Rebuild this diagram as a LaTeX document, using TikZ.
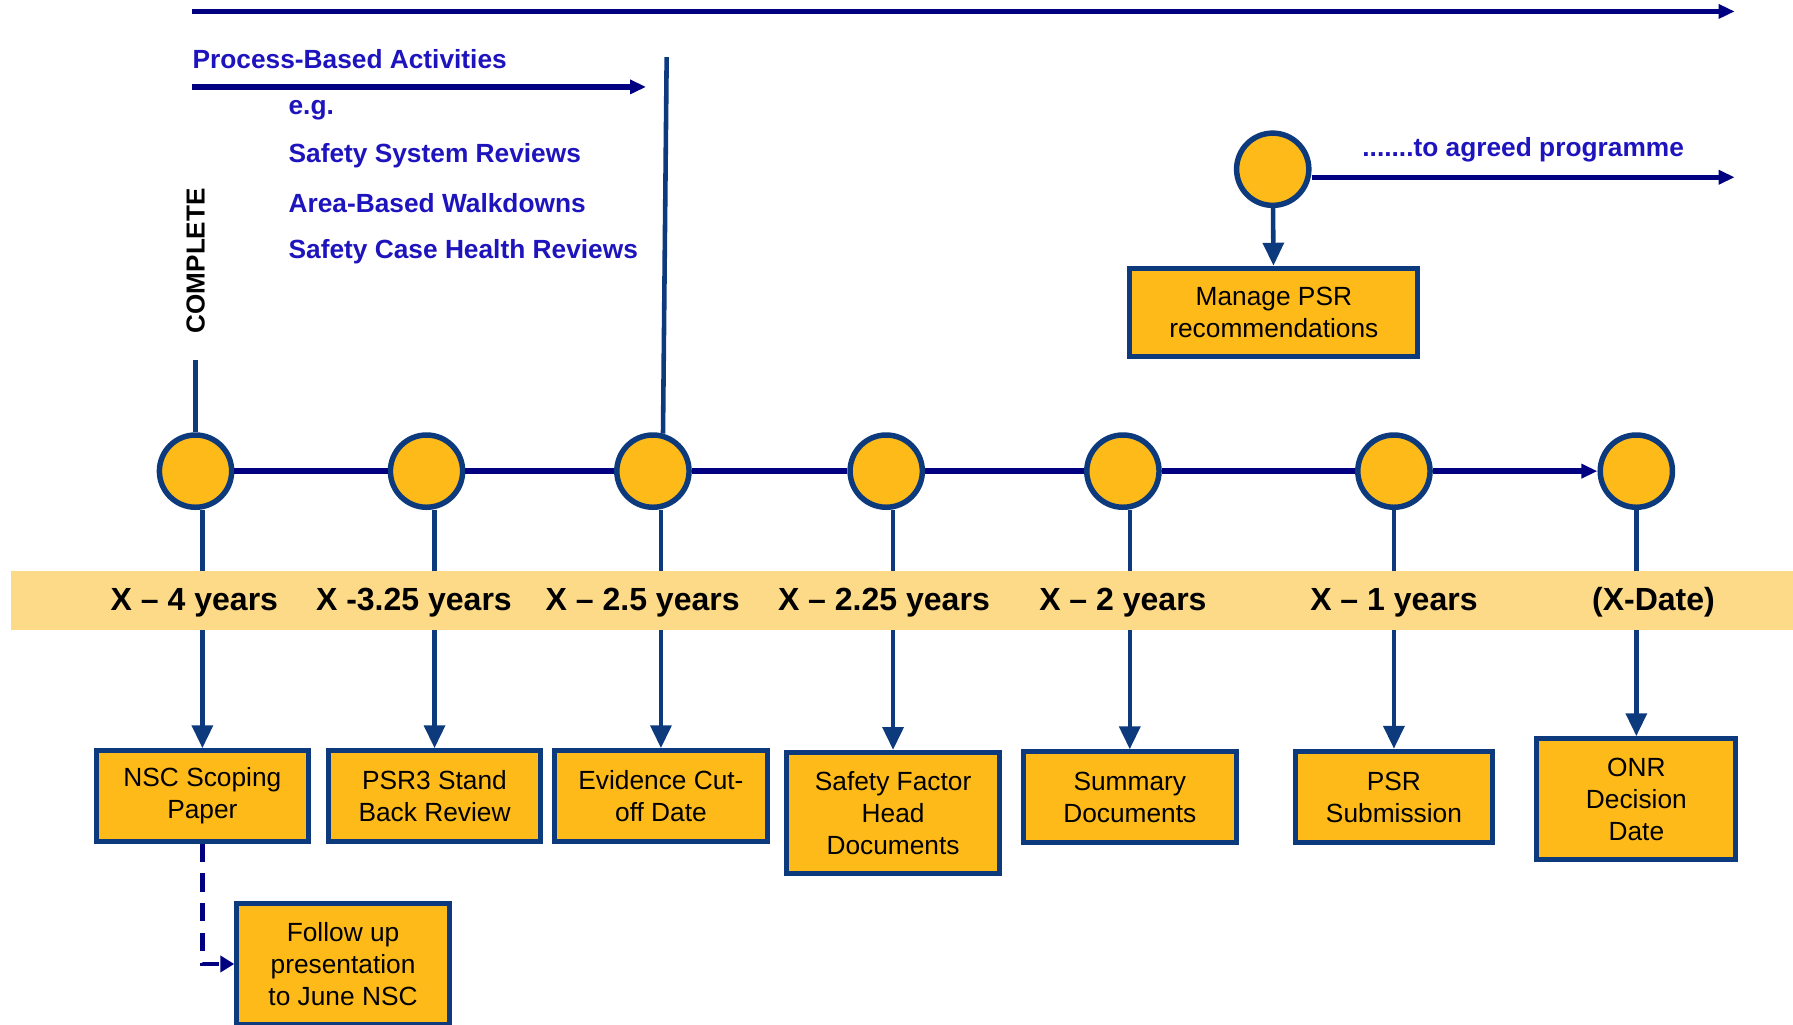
\documentclass[tikz,border=0pt]{standalone}
\usepackage{fontspec}
\setmainfont{Liberation Sans}
\usetikzlibrary{arrows.meta,shapes.geometric}
\definecolor{navy}{HTML}{000080}
\definecolor{dblue}{HTML}{0C3A7D}
\definecolor{gold}{HTML}{FDBA18}
\definecolor{band}{HTML}{FDDA87}
\definecolor{tblue}{HTML}{1E14BE}
\tikzset{
  ms/.style={circle,draw=dblue,fill=gold,line width=2.4pt,minimum size=31.6pt,inner sep=0pt},
  box/.style={draw=dblue,fill=gold,line width=2.2pt,align=center,inner sep=0pt,font=\fontsize{11.5pt}{14pt}\selectfont},
  lbl/.style={font=\bfseries\fontsize{14pt}{16pt}\selectfont},
  btxt/.style={text=tblue,font=\bfseries\fontsize{11.5pt}{13pt}\selectfont,anchor=west,inner sep=0pt},
  conn/.style={draw=dblue,line width=2pt,-{Triangle[length=10pt,width=9pt]}},
  tl/.style={draw=navy,line width=2.4pt},
}
\begin{document}
\begin{tikzpicture}[x=0.5pt,y=-0.5pt]
\useasboundingbox (0,0) rectangle (1568,896);
% top arrows and texts
\coordinate (t0) at (168,10);
\coordinate (t1) at (1517,10);
\draw[tl,-{Triangle[length=7pt,width=6pt]}] (t0) -- (t1);
\node[btxt] (pba) at (168,52) {Process-Based Activities};
\coordinate (p0) at (168,76);
\coordinate (p1) at (565,76);
\draw[tl,-{Triangle[length=7pt,width=6pt]}] (p0) -- (p1);
\node[btxt] (eg) at (252,96) {e.g.};
\node[btxt] (ssr) at (252,136) {Safety System Reviews};
\node[btxt] (abw) at (252,178) {Area-Based Walkdowns};
\node[btxt] (sch) at (252,220) {Safety Case Health Reviews};
\node[rotate=90,font=\bfseries\fontsize{11.4pt}{13pt}\selectfont,inner sep=0pt] (comp) at (171,228) {COMPLETE};
% milestones
\node[ms] (c1) at (171,412) {};
\node[ms] (c2) at (373,412) {};
\node[ms] (c3) at (571,412) {};
\node[ms] (c4) at (775,412) {};
\node[ms] (c5) at (982,412) {};
\node[ms] (c6) at (1219,412) {};
\node[ms] (c7) at (1431,412) {};
\coordinate (ctop) at (171,315);
\coordinate (vtop) at (583,50);
\draw[draw=dblue,line width=2pt] (ctop) -- (c1.north);
\draw[draw=dblue,line width=2pt] (vtop) -- (c3.75);
\draw[tl] (c1) -- (c2) (c2) -- (c3) (c3) -- (c4) (c4) -- (c5) (c5) -- (c6);
\draw[tl,-{Triangle[length=7pt,width=6pt]}] (c6) -- (c7);
% top milestone
\node[ms] (ct) at (1113,148) {};
\coordinate (ta) at (1517,155);
\draw[tl,-{Triangle[length=7pt,width=6pt]}] (ct.east |- ta) -- (ta);
\node[text=tblue,font=\bfseries\fontsize{11.5pt}{13pt}\selectfont,inner sep=0pt] (agreed) at (1332,131) {.......to agreed programme};
\node[box,minimum width=126pt,minimum height=38.5pt] (mng) at (1114,273) {Manage PSR\\recommendations};
\draw[conn] (ct) -- (mng);
% boxes
\node[box,minimum width=93pt,minimum height=39.5pt] (b1) at (177,696) {NSC Scoping\\Paper};
\node[box,minimum width=93pt,minimum height=39.5pt] (b2) at (380,696) {PSR3 Stand\\Back Review};
\node[box,minimum width=93pt,minimum height=39.5pt] (b3) at (578,696) {Evidence Cut-\\off Date};
\node[box,minimum width=93pt,minimum height=53pt] (b4) at (781,711) {Safety Factor\\Head\\Documents};
\node[box,minimum width=93pt,minimum height=39.5pt] (b5) at (988,697) {Summary\\Documents};
\node[box,minimum width=86pt,minimum height=40pt] (b6) at (1219,697) {PSR\\Submission};
\node[box,minimum width=87pt,minimum height=53pt] (b7) at (1431,699) {ONR\\Decision\\Date};
\node[box,minimum width=93pt,minimum height=53pt] (b8) at (300,843) {Follow up\\presentation\\to June NSC};
% connectors
\draw[conn] (b1.north |- c1.south) -- (b1.north);
\draw[conn] (b2.north |- c2.south) -- (b2.north);
\draw[conn] (b3.north |- c3.south) -- (b3.north);
\draw[conn] (b4.north |- c4.south) -- (b4.north);
\draw[conn] (b5.north |- c5.south) -- (b5.north);
\draw[conn] (b6.north |- c6.south) -- (b6.north);
\draw[conn] (b7.north |- c7.south) -- (b7.north);
\draw[draw=navy,line width=2pt,dash pattern=on 8pt off 5pt,-{Triangle[length=6pt,width=7pt]}] (b1.south) |- (b8.west);
% band
\fill[band] (10,499) rectangle (1568,551);
\node[lbl] (l1) at (170,527) {X – 4 years};
\node[lbl] (l2) at (362,527) {X -3.25 years};
\node[lbl] (l3) at (562,527) {X – 2.5 years};
\node[lbl] (l4) at (773,527) {X – 2.25 years};
\node[lbl] (l5) at (982,527) {X – 2 years};
\node[lbl] (l6) at (1219,527) {X – 1 years};
\node[lbl] (l7) at (1446,527) {(X-Date)};
\end{tikzpicture}
\end{document}
